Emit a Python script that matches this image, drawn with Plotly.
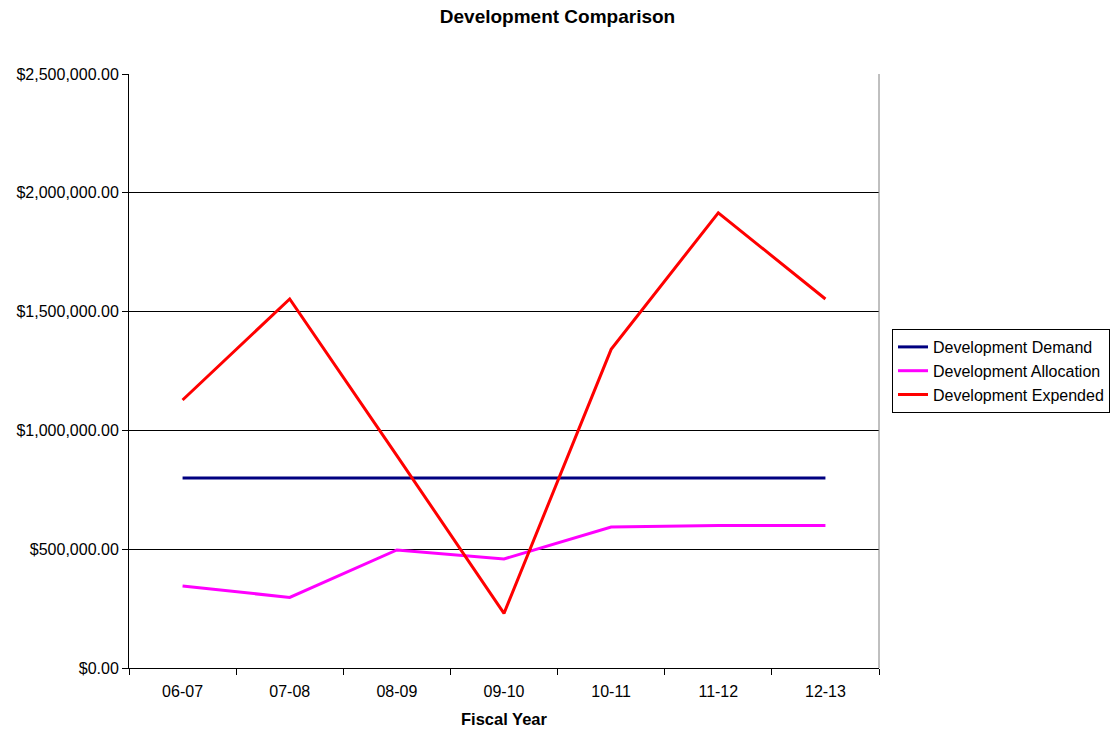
import plotly.graph_objects as go

# Fiscal years on the x axis
fiscal_years = ["06-07", "07-08", "08-09", "09-10", "10-11", "11-12", "12-13"]

# Dollar amounts per fiscal year
development_demand = [800000, 800000, 800000, 800000, 800000, 800000, 800000]
development_allocation = [345000, 297000, 497000, 459000, 593000, 600000, 600000]
development_expended = [1128000, 1553000, 894000, 230000, 1341000, 1916000, 1553000]

# Value axis ticks and their currency labels
y_tick_values = [0, 500000, 1000000, 1500000, 2000000, 2500000]
y_tick_labels = ["$0.00", "$500,000.00", "$1,000,000.00", "$1,500,000.00",
                 "$2,000,000.00", "$2,500,000.00"]

font_family = "Liberation Sans, Arial, sans-serif"

fig = go.Figure()
fig.add_trace(go.Scatter(x=fiscal_years, y=development_demand, mode="lines",
                         name="Development Demand",
                         line=dict(color="#000080", width=3)))
fig.add_trace(go.Scatter(x=fiscal_years, y=development_allocation, mode="lines",
                         name="Development Allocation",
                         line=dict(color="#FF00FF", width=3)))
fig.add_trace(go.Scatter(x=fiscal_years, y=development_expended, mode="lines",
                         name="Development Expended",
                         line=dict(color="#FF0000", width=3)))

fig.update_layout(
    width=1115, height=729,
    margin=dict(l=129, r=236, t=74, b=61, autoexpand=False),
    paper_bgcolor="white", plot_bgcolor="white",
    font=dict(family=font_family, color="black", size=16),
    title=dict(text="<b>Development Comparison</b>", x=0.5, xanchor="center",
               y=0.977, yanchor="middle", font=dict(size=19)),
    showlegend=True,
    legend=dict(xref="container", yref="container", x=0.8, y=0.5487,
                xanchor="left", yanchor="top",
                bordercolor="black", borderwidth=1, bgcolor="white",
                font=dict(size=16), itemwidth=30, tracegroupgap=0),
    xaxis=dict(
        type="category", range=[-0.5, 6.5], automargin=False,
        showline=True, linecolor="black", linewidth=1,
        ticks="outside", tickson="boundaries", ticklen=6, tickcolor="black",
        ticklabelstandoff=9,
        showgrid=False, zeroline=False,
        tickfont=dict(size=16),
        title=dict(text="<b>Fiscal Year</b>", font=dict(size=16.5), standoff=14),
    ),
    yaxis=dict(
        range=[0, 2500000], tickvals=y_tick_values, ticktext=y_tick_labels,
        automargin=False,
        showline=True, linecolor="black", linewidth=1,
        ticks="outside", ticklen=6, tickcolor="black",
        showgrid=True, gridcolor="black", gridwidth=1,
        zeroline=False, tickfont=dict(size=16),
    ),
    shapes=[dict(type="line", xref="paper", yref="paper", x0=1, x1=1, y0=0, y1=1,
                 line=dict(color="#808080", width=1))],
)

fig.write_html("out.html")
